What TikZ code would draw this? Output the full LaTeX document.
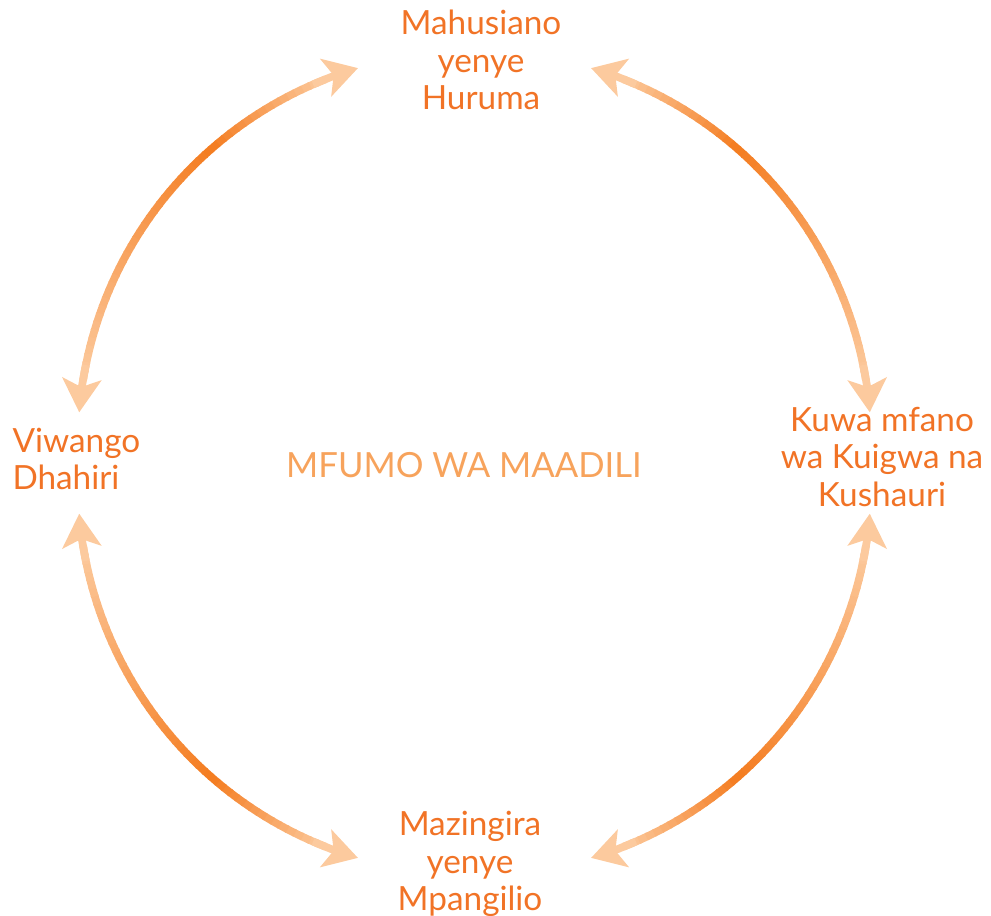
\documentclass[tikz,border=0pt]{standalone}
\usepackage{fontspec}
\setmainfont{Lato}
\usetikzlibrary{arrows.meta}

\definecolor{arclight}{RGB}{252,202,158}
\definecolor{arcdark}{RGB}{244,124,32}
\definecolor{labelorange}{RGB}{241,115,38}
\definecolor{titleorange}{RGB}{247,163,92}

\tikzset{every picture/.style={line width=0.75pt}}
\tikzset{
  label text/.style={text=labelorange, inner sep=0.75pt, align=center, font=\fontsize{25}{28}\selectfont},
  title text/.style={text=titleorange, inner sep=0.75pt, font=\fontsize{26}{30}\selectfont},
  arc piece/.style={line width=5.8pt},
  arc tip/.style={draw=arclight, fill=arclight, line width=5.8pt, -{Stealth[length=25pt,width=29pt,inset=6pt]}},
}

\begin{document}
\begin{tikzpicture}[x=0.75pt,y=0.75pt,yscale=-1,xscale=1]
\path[use as bounding box] (0,0) rectangle (991,916);

%centres of the four arcs
\coordinate (tl) at (469,443);
\coordinate (tr) at (480,443);
\coordinate (bl) at (469,483);
\coordinate (br) at (480,483);

% Text Node
\node[label text] (huruma) at (481,60) {Mahusiano\\yenye\\Huruma};
% Text Node
\node[label text] (kuigwa) at (882,457) {Kuwa mfano\\wa Kuigwa na\\Kushauri};
% Text Node
\node[label text] (mpangilio) at (470,864) {Mazingira\\yenye\\Mpangilio};
% Text Node
\node[label text, align=left, anchor=west] (viwango) at (11,459) {Viwango\\Dhahiri};
% Text Node
\node[title text] (mfumo) at (464,465) {MFUMO WA MAADILI};

%Curve Lines, light at both ends, darkest nearer the top/bottom end
\foreach \c/\a/\b in {tl/-106.5/-175.5,tr/-73.5/-4.5,bl/106.5/175.5,br/73.5/4.5}{
  \pgfmathsetmacro{\s}{sign(\b-\a)}
  \pgfmathsetmacro{\aa}{\a+5*\s}
  \pgfmathsetmacro{\bb}{\b-5*\s}
  \pgfmathsetmacro{\d}{\a+24.5*\s}
  \foreach \i in {0,...,47}{
    \pgfmathsetmacro{\p}{\aa+(\bb-\aa)*\i/48}
    \pgfmathsetmacro{\q}{\aa+(\bb-\aa)*(\i+1.2)/48}
    \pgfmathsetmacro{\m}{\aa+(\bb-\aa)*(\i+0.5)/48}
    \pgfmathsetmacro{\t}{((\m-\d)*\s<0) ? 100*(\m-\aa)/(\d-\aa) : 100*(\bb-\m)/(\bb-\d)}
    \draw[arc piece, draw=arcdark!\t!arclight] (\c) ++(\p:391) arc (\p:\q:391);
  }
  %Arrow heads
  \draw[arc tip] (\c) ++(\a+7*\s:391) arc (\a+7*\s:\a:391);
  \draw[arc tip] (\c) ++(\b-7*\s:391) arc (\b-7*\s:\b:391);
}

\end{tikzpicture}
\end{document}
